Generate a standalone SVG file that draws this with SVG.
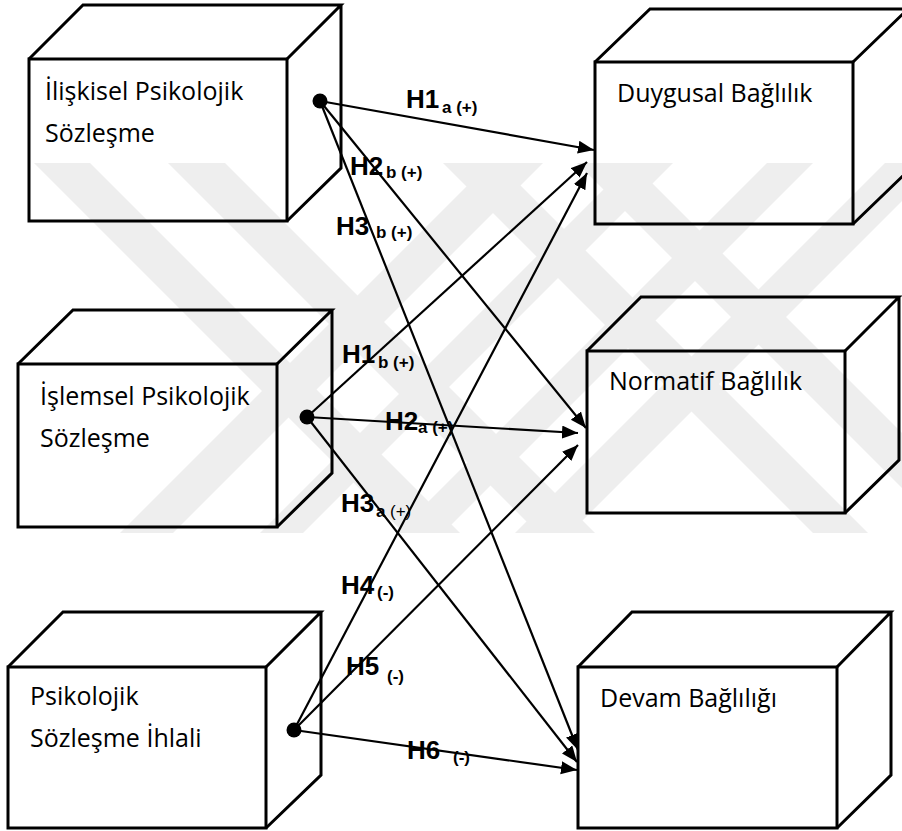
<svg xmlns="http://www.w3.org/2000/svg" width="902" height="831" viewBox="0 0 902 831">
<defs>
<style>
.box{fill:none;stroke:#000;stroke-width:3;stroke-linejoin:miter}
.lbl{font-family:"Open Sans","Noto Sans",sans-serif;font-size:25px;fill:#000}
.h{font-family:"Liberation Sans",Arial,sans-serif;font-weight:bold;font-size:26px;fill:#000}
.s{font-family:"Liberation Sans",Arial,sans-serif;font-weight:bold;font-size:17px;fill:#000}
.sn{font-family:"Liberation Sans",Arial,sans-serif;font-weight:normal;font-size:17px;fill:#000}
.ln{stroke:#000;stroke-width:2.2;fill:none;marker-end:url(#ah)}
.wm{fill:#eeeeee}
</style>
<marker id="ah" markerUnits="userSpaceOnUse" markerWidth="17" markerHeight="14" refX="16" refY="6.5" orient="auto">
<path d="M0,0 L16,6.5 L0,13 z" fill="#000"/>
</marker>
<clipPath id="wmclip"><rect x="0" y="163" width="902" height="370"/></clipPath>
</defs>
<rect width="902" height="831" fill="#fff"/>
<g id="watermark" clip-path="url(#wmclip)">
<polygon class="wm" points="34,163 90,163 460,533 404,533"/>
<polygon class="wm" points="168,163 225,163 595,533 538,533"/>
<polygon class="wm" points="443,163 498,163 868,533 813,533"/>
<polygon class="wm" points="577,163 632,163 1002,533 947,533"/>
<polygon class="wm" points="490,163 543,163 173,533 120,533"/>
<polygon class="wm" points="630,163 673,163 303,533 260,533"/>
<polygon class="wm" points="767,163 813,163 443,533 397,533"/>
<polygon class="wm" points="885,163 940,163 570,533 515,533"/>
</g>
<g id="node-iliskisel">
<rect class="box" x="29" y="59" width="258" height="162"/>
<path class="box" d="M29,59 L83,5 L341,5 L287,59 M341,5 L341,168 L287,221"/>
<text class="lbl" x="45" y="100">İlişkisel Psikolojik</text>
<text class="lbl" x="45" y="142">Sözleşme</text>
</g>
<g id="node-duygusal">
<rect class="box" x="595" y="62" width="258" height="162"/>
<path class="box" d="M595,62 L650,9 L908,9 L853,62 M908,9 L908,171 L853,224"/>
<text class="lbl" x="617" y="102">Duygusal Bağlılık</text>
</g>
<g id="node-islemsel">
<rect class="box" x="18" y="364" width="259" height="163"/>
<path class="box" d="M18,364 L73,310 L332,310 L277,364 M332,310 L332,473 L277,527"/>
<text class="lbl" x="40" y="405">İşlemsel Psikolojik</text>
<text class="lbl" x="40" y="447">Sözleşme</text>
</g>
<g id="node-normatif">
<rect class="box" x="587" y="351" width="258" height="162"/>
<path class="box" d="M587,351 L641,297 L899,297 L845,351 M899,297 L899,460 L845,513"/>
<text class="lbl" x="609" y="390">Normatif Bağlılık</text>
</g>
<g id="node-ihlal">
<rect class="box" x="8" y="667" width="258" height="161"/>
<path class="box" d="M8,667 L63,612 L321,612 L266,667 M321,612 L321,775 L266,828"/>
<text class="lbl" x="30" y="705">Psikolojik</text>
<text class="lbl" x="30" y="747">Sözleşme İhlali</text>
</g>
<g id="node-devam">
<rect class="box" x="578" y="667" width="259" height="161"/>
<path class="box" d="M578,667 L632,612 L891,612 L837,667 M891,612 L891,775 L837,828"/>
<text class="lbl" x="600" y="707">Devam Bağlılığı</text>
</g>
<g id="connectors">
<line class="ln" x1="320" y1="101" x2="594" y2="150"/>
<line class="ln" x1="320" y1="101" x2="586" y2="428"/>
<line class="ln" x1="320" y1="101" x2="578" y2="750"/>
<line class="ln" x1="307" y1="417" x2="587" y2="162"/>
<line class="ln" x1="307" y1="417" x2="578" y2="433"/>
<line class="ln" x1="307" y1="417" x2="577" y2="762"/>
<line class="ln" x1="294" y1="730" x2="587" y2="173"/>
<line class="ln" x1="294" y1="730" x2="578" y2="445"/>
<line class="ln" x1="294" y1="730" x2="577" y2="770"/>
<circle cx="320" cy="101" r="7.5"/>
<circle cx="307" cy="417" r="7.5"/>
<circle cx="294" cy="730" r="7.5"/>
</g>
<g id="labels">
<text><tspan class="h" x="406" y="108">H1</tspan><tspan class="s" x="442" y="113">a (+)</tspan></text>
<text><tspan class="h" x="350" y="175">H2</tspan><tspan class="s" x="386" y="178">b (+)</tspan></text>
<text><tspan class="h" x="336" y="235">H3</tspan><tspan class="s" x="376" y="238">b (+)</tspan></text>
<text><tspan class="h" x="342" y="363">H1</tspan><tspan class="s" x="378" y="368">b (+)</tspan></text>
<text><tspan class="h" x="385" y="430">H2</tspan><tspan class="s" x="418" y="433">a (+)</tspan></text>
<text><tspan class="h" x="341" y="512">H3</tspan><tspan class="s" x="376" y="517">a</tspan><tspan class="sn" x="390" y="517">(+)</tspan></text>
<text><tspan class="h" x="341" y="594">H4</tspan><tspan class="s" x="377" y="598">(-)</tspan></text>
<text><tspan class="h" x="346" y="675">H5</tspan><tspan class="s" x="387" y="682">(-)</tspan></text>
<text><tspan class="h" x="407" y="759">H6</tspan><tspan class="s" x="453" y="763">(-)</tspan></text>
</g>
</svg>
